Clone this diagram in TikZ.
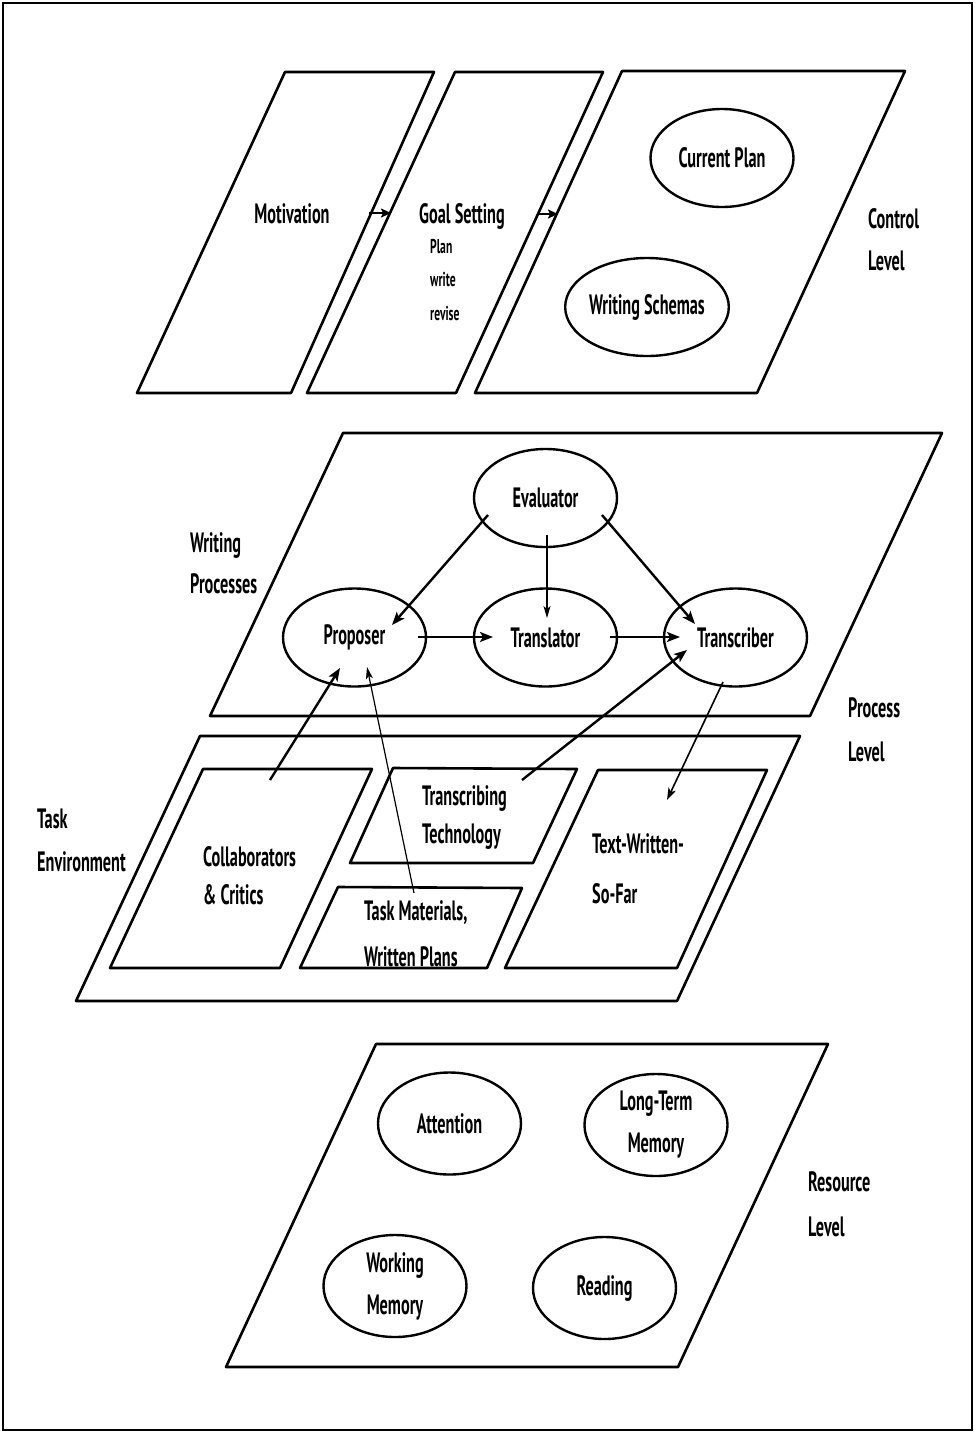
\documentclass[tikz,border=0pt]{standalone}
\usepackage{fontspec}
\setmainfont{PT Sans}[FakeStretch=0.58]
\usetikzlibrary{arrows.meta,shapes.geometric}
\newcommand\lbfont{\bfseries\fontsize{28}{42}\selectfont}
\tikzset{
  plane/.style={line width=2.6pt, line join=round},
  bub/.style={ellipse, draw, line width=2.4pt, minimum width=143pt,
    minimum height=98pt, inner sep=0pt, font=\lbfont, align=center},
  lbl/.style={inner sep=0pt, font=\lbfont, align=left},
  big/.style={-{Stealth[length=13pt,width=10pt,inset=3pt]}, line width=2.4pt},
  mid/.style={-{Stealth[length=12pt,width=8pt,inset=3pt]}, line width=1.6pt},
  slim/.style={-{Stealth[length=12pt,width=7pt,inset=3pt]}, line width=1.2pt},
  short/.style={-{Stealth[length=10pt,width=9pt,inset=2pt]}, line width=2.4pt},
}
\begin{document}
\begin{tikzpicture}[x=1pt,y=-1pt]
\useasboundingbox (0,0) rectangle (975,1433);
\draw[line width=2pt] (3,3) rectangle (972,1430);

% ---------------- control level ----------------
\draw[plane] (285,72) -- (434,72) -- (291,393) -- (137,393) -- cycle;
\draw[plane] (455,72) -- (603,72) -- (456,393) -- (307,393) -- cycle;
\draw[plane] (622,71) -- (905,71) -- (757,393) -- (475,393) -- cycle;

% multi-line labels are anchored on the baseline of their last line
\node[lbl, anchor=base] (mot) at (292,223) {Motivation};
\node[lbl, anchor=base] (goal) at (462,223) {Goal Setting};
\node[lbl, anchor=base west, font=\bfseries\fontsize{20}{33.5}\selectfont]
  (steps) at (430,320) {Plan\\write\\revise};
\node[bub] (plan) at (722,158) {Current Plan};
\node[bub] (schema) at (647,307) {Writing Schemas};
\node[lbl, anchor=base west] (ctl) at (868,270) {Control\\Level};

\coordinate (motR) at (369,213);
\coordinate (goalL) at (391,213);
\coordinate (goalR) at (537,214);
\coordinate (ctlL) at (558,214);
\draw[short] (motR) -- (goalL);
\draw[short] (goalR) -- (ctlL);

% ---------------- process level ----------------
\draw[plane] (343,433) -- (942,433) -- (810,716) -- (210,716) -- cycle;
\node[lbl, anchor=base west, font=\bfseries\fontsize{28}{41}\selectfont]
  (wp) at (190,593) {Writing\\Processes};
\node[lbl, anchor=base west, font=\bfseries\fontsize{28}{44}\selectfont]
  (proc) at (848,761) {Process\\Level};

\node[bub] (eval) at (545.5,498) {Evaluator};
\node[bub] (prop) at (354.5,637.5) {Proposer};
\node[bub] (trsl) at (545.5,637.5) {Translator};
\node[bub] (trsc) at (735.5,637.5) {Transcriber};

\coordinate (evA) at (488,515);
\coordinate (prA) at (392,625);
\coordinate (evB) at (547,535);
\coordinate (tlB) at (547,618);
\coordinate (evC) at (602,515);
\coordinate (tcC) at (695,624);
\coordinate (prD) at (418,637);
\coordinate (tlD) at (493,637);
\coordinate (tlE) at (610,637);
\coordinate (tcE) at (680,637);
\draw[big] (evA) -- (prA);
\draw[slim] (evB) -- (tlB);
\draw[big] (evC) -- (tcC);
\draw[big] (prD) -- (tlD);
\draw[big] (tlE) -- (tcE);

% ---------------- task environment ----------------
\draw[plane] (200,736) -- (800,736) -- (677,1001) -- (76,1001) -- cycle;
\draw[plane] (203,769) -- (372,769) -- (280,968) -- (110,968) -- cycle;
\draw[plane] (393,768) -- (577,769) -- (533,863) -- (350,863) -- cycle;
\draw[plane] (338,887) -- (522,888) -- (487,968) -- (300,968) -- cycle;
\draw[plane] (598,770) -- (767,770) -- (677,968) -- (505,968) -- cycle;

\node[lbl, anchor=base west, font=\bfseries\fontsize{28}{43}\selectfont]
  (env) at (37,871) {Task\\Environment};
\node[lbl, anchor=base west, font=\bfseries\fontsize{28}{38}\selectfont]
  (coll) at (203,904) {Collaborators\\\& Critics};
\node[lbl, anchor=base west, font=\bfseries\fontsize{28}{38}\selectfont]
  (tech) at (422,843) {Transcribing\\Technology};
\node[lbl, anchor=base west, font=\bfseries\fontsize{28}{46}\selectfont]
  (mats) at (364,966) {Task Materials,\\Written Plans};
\node[lbl, anchor=base west, font=\bfseries\fontsize{28}{50}\selectfont]
  (text) at (592,903) {Text-Written-\\So-Far};

\coordinate (coF) at (270,780);
\coordinate (prF) at (340,668);
\coordinate (maG) at (414,893);
\coordinate (prG) at (367,667);
\coordinate (teH) at (522,780);
\coordinate (tcH) at (687,650);
\coordinate (tcI) at (723,682);
\coordinate (txI) at (667,800);
\draw[big] (coF) -- (prF);
\draw[slim] (maG) -- (prG);
\draw[big] (teH) -- (tcH);
\draw[mid] (tcI) -- (txI);

% ---------------- resource level ----------------
\draw[plane] (376,1044) -- (828,1044) -- (678,1367) -- (226,1367) -- cycle;
\node[bub, minimum height=102pt] (att) at (449.5,1123.5) {Attention};
\node[bub, minimum height=102pt] (ltm) at (656,1125) {Long-Term\\Memory};
\node[bub, minimum height=102pt] (wm) at (395,1286) {Working\\Memory};
\node[bub, minimum height=102pt] (read) at (604.5,1288) {Reading};
\node[lbl, anchor=base west, font=\bfseries\fontsize{28}{45}\selectfont]
  (res) at (808,1236) {Resource\\Level};
\end{tikzpicture}
\end{document}
